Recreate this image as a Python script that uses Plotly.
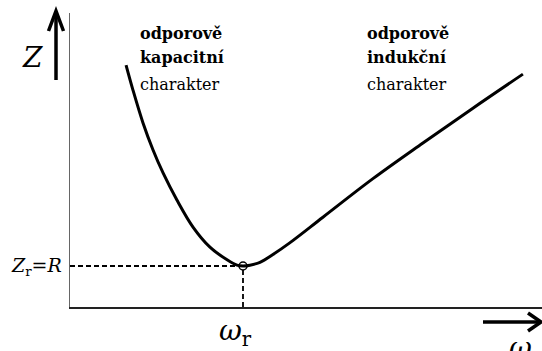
import plotly.graph_objects as go

# Impedance of a series RLC circuit vs. angular frequency
# (omega in units of omega_r, Z in units of R)
omega = [0.324, 0.364, 0.422, 0.480, 0.538, 0.618, 0.711, 0.809, 0.908, 0.965, 1.0,
         1.040, 1.098, 1.173, 1.272, 1.462, 1.751, 2.040, 2.329, 2.618]
Z = [5.90, 5.29, 4.49, 3.83, 3.27, 2.61, 1.95, 1.46, 1.15, 1.02, 1.0,
     1.02, 1.09, 1.28, 1.57, 2.19, 3.13, 4.00, 4.85, 5.68]

omega_r = 1.0
Z_r = 1.0

W, H = 542, 351
ML, MR, MT, MB = 70, 0, 13, 44
X_MAX = 2.7283
Y_MAX = 7.1707

SERIF = "DejaVu Serif"

fig = go.Figure()

# dashed guides to the resonance point
fig.add_trace(go.Scatter(x=[0, omega_r], y=[Z_r, Z_r], mode="lines",
                         line=dict(color="black", width=1.8, dash="5px,3px"),
                         hoverinfo="skip", showlegend=False))
fig.add_trace(go.Scatter(x=[omega_r, omega_r], y=[0, Z_r], mode="lines",
                         line=dict(color="black", width=1.8, dash="5px,3px"),
                         hoverinfo="skip", showlegend=False))
# resonance marker
fig.add_trace(go.Scatter(x=[omega_r], y=[Z_r], mode="markers",
                         marker=dict(symbol="circle", size=8, color="white",
                                     line=dict(color="black", width=1.5)),
                         hoverinfo="skip", showlegend=False))
# impedance curve
fig.add_trace(go.Scatter(x=omega, y=Z, mode="lines",
                         line=dict(color="black", width=3, shape="spline", smoothing=1.0),
                         showlegend=False))

pw = W - ML - MR
ph = H - MT - MB


def px(xp):
    return (xp - ML) / pw


def py(yp):
    return (H - MB - yp) / ph


# axis arrows (drawn in paper coordinates, outside the plot area)
arrow_line = dict(color="black", width=3.5)
shapes = [
    dict(type="line", xref="paper", yref="paper",
         x0=px(56), y0=py(80), x1=px(56), y1=py(12), line=arrow_line),
    dict(type="path", xref="paper", yref="paper",
         path=f"M {px(48.5)},{py(31)} L {px(56)},{py(11)} L {px(63.5)},{py(31)}",
         line=arrow_line),
    dict(type="line", xref="paper", yref="paper",
         x0=px(483), y0=py(322), x1=px(540), y1=py(322), line=arrow_line),
    dict(type="path", xref="paper", yref="paper",
         path=f"M {px(528)},{py(313)} L {px(541)},{py(322)} L {px(528)},{py(331)}",
         line=arrow_line),
]

annotations = [
    dict(text="<i>Z</i>", xref="paper", yref="paper", x=px(32), y=py(58),
         showarrow=False, font=dict(family=SERIF, size=28, color="black"),
         xanchor="center", yanchor="middle"),
    dict(text="<i>Z</i><sub>r</sub>=<i>R</i>", xref="x", yref="y", x=0, y=Z_r,
         showarrow=False, font=dict(family=SERIF, size=19, color="black"),
         xanchor="right", yanchor="middle", xshift=-6),
    dict(text="<i>ω</i><sub>r</sub>", xref="x", yref="paper", x=omega_r, y=py(332),
         showarrow=False, font=dict(family=SERIF, size=28, color="black"),
         xanchor="center", yanchor="middle", xshift=-8),
    dict(text="<i>ω</i>", xref="paper", yref="paper", x=px(520), y=py(347),
         showarrow=False, font=dict(family=SERIF, size=28, color="black"),
         xanchor="center", yanchor="middle"),
]

labels = [
    (138, ["<b>odporově</b>", "<b>kapacitní</b>", "charakter"]),
    (365, ["<b>odporově</b>", "<b>indukční</b>", "charakter"]),
]
rows = [34, 58, 84]
for xl, lines in labels:
    for yc, t in zip(rows, lines):
        annotations.append(dict(text=t, xref="paper", yref="paper", x=px(xl), y=py(yc),
                                showarrow=False, xanchor="left", yanchor="middle",
                                font=dict(family=SERIF, size=16, color="black")))

fig.update_layout(
    width=W, height=H, autosize=False,
    margin=dict(l=ML, r=MR, t=MT, b=MB, pad=0),
    paper_bgcolor="white", plot_bgcolor="white",
    font=dict(family=SERIF),
    xaxis=dict(range=[0, X_MAX], showgrid=False, zeroline=False, showticklabels=False,
               ticks="", showline=True, linecolor="#222222", linewidth=1.5, fixedrange=True),
    yaxis=dict(range=[0, Y_MAX], showgrid=False, zeroline=False, showticklabels=False,
               ticks="", showline=True, linecolor="#666666", linewidth=1, fixedrange=True),
    shapes=shapes,
    annotations=annotations,
)

fig.write_html("out.html")
